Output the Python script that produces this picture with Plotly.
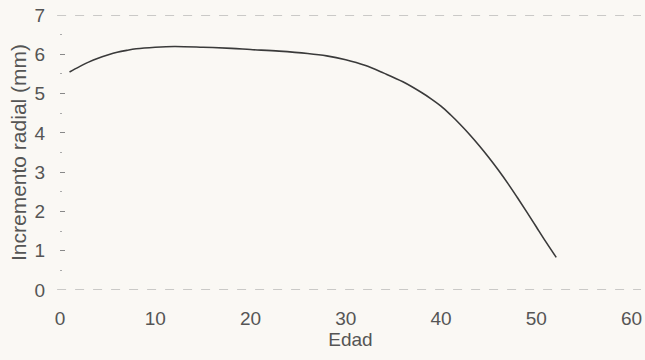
import plotly.graph_objects as go

# Data (Edad vs Incremento radial)
edad = [1, 2, 3, 4, 5, 6, 7, 8, 10, 12, 15, 18, 20, 23, 26, 28, 30, 32, 34, 36, 38, 39, 40,
        41, 42, 43, 44, 45, 46, 47, 48, 49, 50, 51, 52.1]
incremento = [5.55, 5.68, 5.8, 5.9, 5.98, 6.05, 6.1, 6.14, 6.18, 6.2, 6.18, 6.15, 6.12, 6.08, 6.02, 5.96,
              5.86, 5.72, 5.52, 5.3, 5.02, 4.86, 4.68,
              4.46, 4.22, 3.96, 3.68, 3.38, 3.06, 2.72, 2.36, 1.99, 1.61, 1.23, 0.83]

x_ticks = [0, 10, 20, 30, 40, 50, 60]
y_ticks = [0, 1, 2, 3, 4, 5, 6, 7]
grid_y = [0, 7]

BG = "#faf8f4"
TXT = "#555555"
FONT = "Liberation Sans, Arial, sans-serif"

fig = go.Figure()
fig.add_trace(go.Scatter(
    x=edad, y=incremento, mode="lines",
    line=dict(color="#3a3a3a", width=1.6, shape="spline", smoothing=1.0),
    showlegend=False, hoverinfo="skip",
))

# dashed reference lines at y = 0 and y = 7
for gy in grid_y:
    fig.add_shape(type="line", xref="paper", yref="y", x0=-0.005, x1=1.0, y0=gy, y1=gy,
                  line=dict(color="#9a9a9a", width=1, dash="dash"), layer="below")

fig.update_layout(
    width=645, height=360,
    margin=dict(l=60, r=4, t=15, b=70),
    paper_bgcolor=BG, plot_bgcolor=BG,
    font=dict(family=FONT, size=19, color=TXT),
    xaxis=dict(
        range=[0, 61], tickvals=x_ticks, ticks="", showgrid=False,
        zeroline=False, showline=False, ticklabelstandoff=15,
        tickfont=dict(size=19, color=TXT),
        title=dict(text="Edad", standoff=0, font=dict(size=19, color=TXT)),
    ),
    yaxis=dict(
        range=[0, 7], tickvals=y_ticks, ticks="inside", ticklen=5, tickcolor="#888888",
        minor=dict(dtick=0.5, ticks="inside", ticklen=2, tickcolor="#aaaaaa"),
        showgrid=False, zeroline=False, showline=False, ticklabelstandoff=14,
        tickfont=dict(size=19, color=TXT),
        title=dict(text="Incremento radial (mm)", standoff=2, font=dict(size=21, color=TXT)),
    ),
)

fig.write_html("out.html", config={"displayModeBar": False},
               post_script="document.body.style.margin='0';")
